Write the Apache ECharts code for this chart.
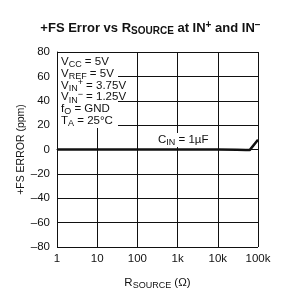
<!DOCTYPE html>
<html>
<head>
<meta charset="utf-8">
<script src="https://cdn.jsdelivr.net/npm/echarts@6/dist/echarts.min.js"></script>
<style>
  html, body { margin: 0; padding: 0; background: #fff; }
  #main { width: 301px; height: 295px; }
</style>
</head>
<body>
<div id="main"></div>
<script>
// source resistance (ohm) and +FS error (ppm)
var rSource = [1, 10, 100, 1000, 10000, 30000, 50000, 62000, 100000];
var fsError = [0, 0, 0, 0, 0, -0.2, -0.4, -0.5, 8];
var yTicks = [-80, -60, -40, -20, 0, 20, 40, 60, 80];
var xTickNames = { 1: '1', 10: '10', 100: '100', 1000: '1k', 10000: '10k', 100000: '100k' };
var conditions = [
  'V{sub|CC} = 5V',
  'V{sub|REF} = 5V',
  'V{sub|IN}{sup|+} = 3.75V',
  'V{sub|IN}{sup|\u2212} = 1.25V',
  'f{sub|O} = GND',
  'T{sub|A} = 25\u00b0C'
];

var FONT = 'Arial, "Liberation Sans", sans-serif';

var chart = echarts.init(document.getElementById('main'), null, { renderer: 'canvas' });

var points = [];
for (var i = 0; i < rSource.length; i++) {
  points.push([rSource[i], fsError[i]]);
}

var richSmall = {
  sub: { fontFamily: FONT, fontSize: 9, color: '#111', padding: [6, 0, 0, 0] },
  sup: { fontFamily: FONT, fontSize: 9, color: '#111', padding: [0, 0, 5, 0] }
};

// white box behind the conditions block, then one text per line
var graphics = [{
  type: 'rect',
  z: 10,
  shape: { x: 58, y: 53, width: 60, height: 75 },
  style: { fill: '#fff' }
}];
conditions.forEach(function (t, k) {
  graphics.push({
    type: 'text',
    z: 11,
    x: 61,
    y: 62 + k * 11.7,
    style: {
      text: t,
      fontFamily: FONT,
      fontSize: 11.5,
      fill: '#111',
      verticalAlign: 'middle',
      rich: richSmall
    }
  });
});
graphics.push({
  type: 'rect',
  z: 10,
  shape: { x: 155, y: 133, width: 50, height: 14 },
  style: { fill: '#fff' }
});
graphics.push({
  type: 'text',
  z: 11,
  x: 158,
  y: 140,
  style: {
    text: 'C{sub|IN} = 1\u00b5F',
    fontFamily: FONT,
    fontSize: 11.5,
    fill: '#111',
    verticalAlign: 'middle',
    rich: richSmall
  }
});

var option = {
  animation: false,
  backgroundColor: '#fff',
  title: {
    text: '+FS Error vs R{sub|SOURCE} at IN{sup|+} and IN{sup|\u2212}',
    left: 'center',
    top: 15,
    textStyle: {
      fontFamily: FONT, fontWeight: 'bold', fontSize: 13, color: '#111',
      rich: {
        sub: { fontFamily: FONT, fontWeight: 'bold', fontSize: 10, color: '#111', padding: [6, 0, 0, 0] },
        sup: { fontFamily: FONT, fontWeight: 'bold', fontSize: 10, color: '#111', padding: [0, 0, 5, 0] }
      }
    }
  },
  grid: { left: 57, top: 52, width: 201, height: 200, containLabel: false },
  xAxis: {
    type: 'log',
    logBase: 10,
    min: 1,
    max: 100000,
    name: 'R{sub|SOURCE} (\u03a9)',
    nameLocation: 'middle',
    nameGap: 28,
    nameTextStyle: {
      fontFamily: FONT, fontSize: 11.5, color: '#111',
      rich: { sub: { fontFamily: FONT, fontSize: 9, color: '#111', padding: [6, 0, 0, 0] } }
    },
    axisLine: { lineStyle: { color: '#111', width: 1 } },
    axisTick: { show: false },
    splitLine: { show: true, lineStyle: { color: '#111', width: 1 } },
    axisLabel: {
      fontFamily: FONT, fontSize: 11.5, color: '#111', margin: 6,
      formatter: function (v) { return xTickNames[v] !== undefined ? xTickNames[v] : ''; }
    }
  },
  yAxis: {
    type: 'value',
    min: yTicks[0],
    max: yTicks[yTicks.length - 1],
    interval: 20,
    name: '+FS ERROR (ppm)',
    nameLocation: 'middle',
    nameGap: 30,
    nameRotate: 90,
    nameMoveOverlap: false,
    nameTextStyle: { fontFamily: FONT, fontSize: 10.5, color: '#111' },
    axisLine: { show: true, lineStyle: { color: '#111', width: 1 } },
    axisTick: { show: false },
    splitLine: { show: true, lineStyle: { color: '#111', width: 1 } },
    axisLabel: {
      fontFamily: FONT, fontSize: 11.5, color: '#111', margin: 7,
      formatter: function (v) { return String(v).replace('-', '\u2013'); }
    }
  },
  graphic: graphics,
  series: [{
    type: 'line',
    data: points,
    showSymbol: false,
    smooth: false,
    lineStyle: { color: '#111', width: 2.5 },
    z: 5
  }]
};

chart.setOption(option);
</script>
</body>
</html>
